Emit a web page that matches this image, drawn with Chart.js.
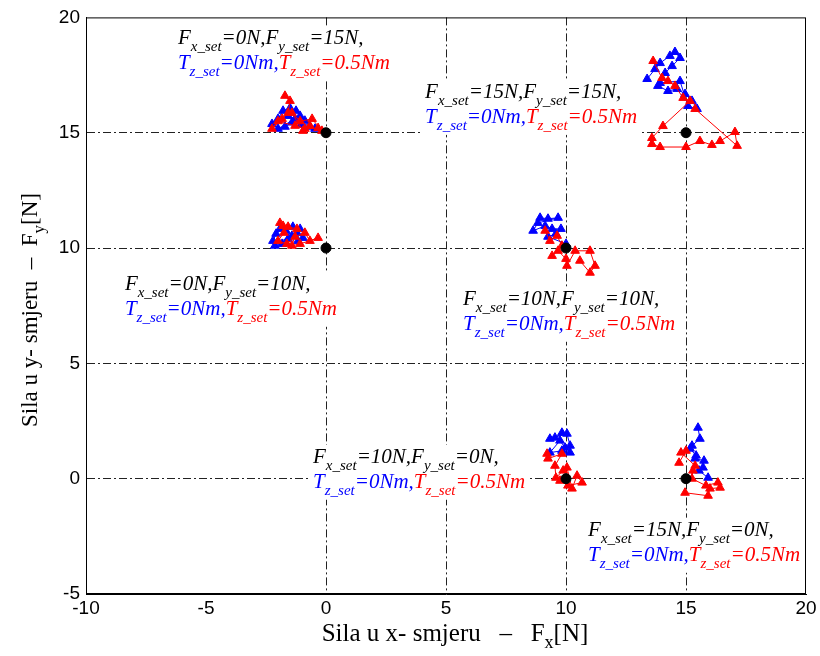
<!DOCTYPE html>
<html>
<head>
<meta charset="utf-8">
<script src="https://cdn.jsdelivr.net/npm/chart.js@4/dist/chart.umd.min.js"></script>
<style>
  html, body { margin: 0; padding: 0; background: #fff; }
  #wrap { width: 820px; height: 656px; }
</style>
</head>
<body>
<div id="wrap"><canvas id="chart"></canvas></div>
<script>
// Axis ranges and ticks
const xTicks = [-10, -5, 0, 5, 10, 15, 20];
const yTicks = [-5, 0, 5, 10, 15, 20];

// Set points (black dots)
const setPoints = [[0, 15], [0, 10], [15, 15], [10, 10], [10, 0], [15, 0]];

// Measured forces, Tz_set = 0 Nm (blue) and Tz_set = 0.5 Nm (red), per set point
const blue_0_15 = [[-2.25, 15.38], [-2.0, 15.6], [-1.79, 15.95], [-1.5, 16.07], [-1.25, 15.95], [-1.08, 15.73],
    [-0.88, 15.52], [-0.67, 15.26], [-1.04, 15.35], [-1.42, 15.44], [-1.71, 15.26], [-2.0, 15.17],
    [-1.29, 15.6], [-1.58, 15.73], [-0.46, 15.17]];
const red_0_15 = [[-1.71, 16.6], [-1.5, 16.38], [-1.58, 15.86], [-1.83, 15.6], [-2.25, 15.17], [-2.0, 15.5],
    [-1.29, 15.3], [-0.88, 15.17], [-0.33, 15.2], [-0.17, 15.08], [-0.58, 15.6], [-1.08, 15.5],
    [-1.42, 15.86], [-0.96, 15.08], [-0.67, 15.3]];

const blue_0_10 = [[-2.21, 10.31], [-2.08, 10.62], [-1.92, 10.83], [-1.67, 10.75], [-1.42, 10.53], [-1.17, 10.31],
    [-0.96, 10.44], [-1.21, 10.66], [-1.58, 10.4], [-1.83, 10.18], [-2.13, 10.1], [-1.08, 10.83], [-1.38, 10.92]];
const red_0_10 = [[-1.92, 11.09], [-1.58, 10.92], [-1.75, 10.66], [-2.0, 10.31], [-1.63, 10.18], [-1.29, 10.49],
    [-0.88, 10.66], [-0.67, 10.31], [-0.33, 10.44], [-1.08, 10.18], [-1.42, 10.1], [-1.21, 10.83], [-1.79, 10.96]];

const blue_15_15 = [[13.38, 17.33], [13.71, 17.76], [13.92, 18.02], [14.33, 18.33], [14.54, 18.5], [14.75, 18.24],
    [14.42, 17.89], [14.13, 17.59], [13.83, 17.03], [14.25, 16.81], [14.63, 16.9], [14.96, 16.68],
    [15.25, 16.38], [15.46, 16.03], [15.08, 16.16], [14.75, 17.24], [13.92, 17.16]];
const red_15_15 = [[13.63, 18.11], [14.0, 17.37], [14.25, 17.24], [14.54, 17.03], [14.88, 16.51], [15.17, 16.38],
    [14.04, 15.29], [13.58, 14.77], [13.58, 14.51], [13.92, 14.38], [15.0, 14.38], [15.58, 14.64],
    [16.08, 14.47], [16.42, 14.64], [17.04, 15.03], [17.13, 14.43], [15.38, 16.03]];

const blue_10_10 = [[8.92, 11.31], [9.25, 11.27], [9.67, 11.31], [8.83, 11.09], [8.63, 10.75], [9.13, 10.96],
    [9.42, 10.83], [9.79, 10.83], [9.58, 10.62], [9.25, 10.49], [10.0, 10.18]];
const red_10_10 = [[9.13, 10.75], [9.33, 10.31], [9.63, 10.53], [9.83, 10.1], [9.42, 9.66], [9.67, 9.88],
    [10.0, 9.53], [10.04, 9.23], [10.38, 9.88], [11.0, 9.88], [11.21, 9.23], [11.0, 8.93], [10.58, 9.45]];

const blue_10_0 = [[9.83, 1.99], [9.54, 1.78], [9.33, 1.73], [10.04, 1.95], [10.17, 1.43], [10.17, 1.13],
    [9.83, 1.21], [9.33, 1.13], [9.75, 1.65], [9.96, 1.34]];
const red_10_0 = [[9.21, 1.08], [9.25, 0.87], [9.83, 1.08], [9.54, 0.56], [9.58, 0.04], [9.88, 0.35],
    [10.04, 0.48], [10.25, -0.43], [10.46, 0.13], [10.67, -0.17], [10.08, -0.3], [9.75, -0.09]];

const blue_15_0 = [[15.5, 2.21], [15.58, 1.73], [15.25, 1.43], [15.17, 1.3], [15.42, 1.0], [15.38, 0.87],
    [15.75, 0.78], [15.71, 0.48], [15.54, 0.35], [15.92, 0.04]];
const red_15_0 = [[14.71, 0.69], [15.0, 1.21], [14.79, 1.13], [15.38, 0.56], [15.29, 0.35], [15.25, 0.0],
    [15.83, -0.3], [16.33, -0.17], [16.42, -0.39], [16.0, -0.43], [15.92, -0.74], [14.96, -0.61]];

// Annotation labels: anchor (data coords of first line start), Fx_set, Fy_set
const labelAnchors = [[-6.17, 18.85], [4.13, 16.51], [-8.38, 8.19], [5.71, 7.54], [-0.54, 0.69], [10.92, -2.47]];
const labelFx = ['0N', '15N', '0N', '10N', '10N', '15N'];
const labelFy = ['15N', '15N', '10N', '10N', '0N', '0N'];

const BLUE = '#0000ff';
const RED = '#ff0000';

const toXY = arr => arr.map(p => ({x: p[0], y: p[1]}));

function series(arr, color, order) {
    return {
        data: toXY(arr),
        showLine: true,
        borderColor: color,
        backgroundColor: color,
        borderWidth: 1,
        pointStyle: 'triangle',
        pointRadius: 5,
        pointBorderWidth: 1,
        order: order
    };
}

// Draw text with subscripts
function drawRich(ctx, x, y, segs, measureOnly) {
    let cx = x;
    segs.forEach(s => {
        ctx.font = s.sub ? 'italic 15px "Liberation Serif"' : 'italic 21px "Liberation Serif"';
        ctx.fillStyle = s.c || '#000';
        if (!measureOnly) ctx.fillText(s.t, cx, s.sub ? y + 7 : y);
        cx += ctx.measureText(s.t).width;
    });
    return cx - x;
}

const annotationPlugin = {
    id: 'annot',
    beforeDatasetsDraw(chart) {
        const ctx = chart.ctx;
        const xs = chart.scales.x, ys = chart.scales.y;
        ctx.save();
        ctx.textBaseline = 'alphabetic';
        ctx.textAlign = 'left';
        labelAnchors.forEach((a, i) => {
            const px = xs.getPixelForValue(a[0]);
            const py = ys.getPixelForValue(a[1]);
            const line1 = [
                {t: 'F'}, {t: 'x_set', sub: true}, {t: '=' + labelFx[i] + ',F'},
                {t: 'y_set', sub: true}, {t: '=' + labelFy[i] + ','}
            ];
            const line2 = [
                {t: 'T', c: BLUE}, {t: 'z_set', sub: true, c: BLUE}, {t: '=0Nm,', c: BLUE},
                {t: 'T', c: RED}, {t: 'z_set', sub: true, c: RED}, {t: '=0.5Nm', c: RED}
            ];
            const w = Math.max(drawRich(ctx, px, py, line1, true), drawRich(ctx, px, py + 25, line2, true));
            ctx.fillStyle = '#fff';
            ctx.fillRect(px - 3, py - 18, w + 6, 25 + 30);
            drawRich(ctx, px, py, line1);
            drawRich(ctx, px, py + 25, line2);
        });
        ctx.restore();
    },
    afterDraw(chart) {
        const ctx = chart.ctx;
        const a = chart.chartArea;
        ctx.save();
        // frame
        ctx.strokeStyle = '#000';
        ctx.lineWidth = 1;
        ctx.strokeRect(a.left + 0.5, a.top + 0.5, a.right - a.left - 1, a.bottom - a.top - 1);
        // axis titles
        ctx.fillStyle = '#000';
        ctx.textBaseline = 'alphabetic';
        ctx.textAlign = 'left';
        const xt = [{t: 'Sila u x- smjeru   \u2013   F'}, {t: 'x', sub: true}, {t: '[N]'}];
        const yt = [{t: 'Sila u y- smjeru  \u2013  F'}, {t: 'y', sub: true}, {t: '[N]'}];
        const titleDraw = (segs, x, y, size, measure) => {
            let cx = x;
            segs.forEach(s => {
                ctx.font = (s.sub ? Math.round(size * 0.72) : size) + 'px "Liberation Serif"';
                if (!measure) ctx.fillText(s.t, cx, s.sub ? y + 7 : y);
                cx += ctx.measureText(s.t).width;
            });
            return cx - x;
        };
        const wx = titleDraw(xt, 0, 0, 25, true);
        titleDraw(xt, 455 - wx / 2, 641, 25, false);
        const wy = titleDraw(yt, 0, 0, 23, true);
        ctx.translate(37, 310);
        ctx.rotate(-Math.PI / 2);
        titleDraw(yt, -wy / 2, 0, 23, false);
        ctx.restore();
    }
};

const gridColor = ctx => {
    const v = ctx.tick && ctx.tick.value;
    return (v === -10 || v === 20 || v === -5) ? 'rgba(0,0,0,0)' : '#222';
};

new Chart(document.getElementById('chart'), {
    type: 'scatter',
    data: {
        datasets: [
            {
                data: toXY(setPoints),
                pointStyle: 'circle',
                pointRadius: 5,
                backgroundColor: '#000',
                borderColor: '#000',
                showLine: false,
                order: 0
            },
            series(red_0_15, RED, 1), series(red_0_10, RED, 1), series(red_15_15, RED, 1),
            series(red_10_10, RED, 1), series(red_10_0, RED, 1), series(red_15_0, RED, 1),
            series(blue_0_15, BLUE, 2), series(blue_0_10, BLUE, 2), series(blue_15_15, BLUE, 2),
            series(blue_10_10, BLUE, 2), series(blue_10_0, BLUE, 2), series(blue_15_0, BLUE, 2)
        ]
    },
    options: {
        responsive: true,
        maintainAspectRatio: false,
        animation: false,
        layout: {padding: {top: 17, right: 14, left: 0, bottom: 0}},
        plugins: {legend: {display: false}, tooltip: {enabled: false}},
        scales: {
            x: {
                type: 'linear',
                min: xTicks[0],
                max: xTicks[xTicks.length - 1],
                afterBuildTicks: s => { s.ticks = xTicks.map(v => ({value: v})); },
                afterFit: s => { s.height = 62; },
                ticks: {color: '#000', font: {family: '"Liberation Sans"', size: 19}, padding: 3, maxRotation: 0},
                grid: {color: gridColor, lineWidth: 1, drawTicks: false},
                border: {display: true, color: '#000', dash: [8, 3, 2, 3]}
            },
            y: {
                type: 'linear',
                min: yTicks[0],
                max: yTicks[yTicks.length - 1],
                afterBuildTicks: s => { s.ticks = yTicks.map(v => ({value: v})); },
                afterFit: s => { s.width = 86; },
                ticks: {color: '#000', font: {family: '"Liberation Sans"', size: 19}, padding: 6},
                grid: {color: gridColor, lineWidth: 1, drawTicks: false},
                border: {display: true, color: '#000', dash: [8, 3, 2, 3]}
            }
        }
    },
    plugins: [annotationPlugin]
});
</script>
</body>
</html>
